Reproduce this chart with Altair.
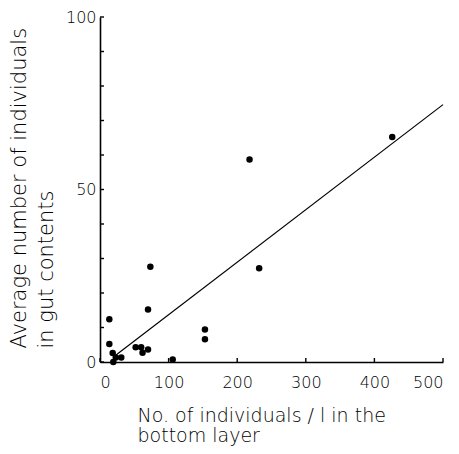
import altair as alt
import pandas as pd

# scatter data
x_vals = [13.6, 13.6, 18.5, 19.4, 23, 31, 52, 60, 62, 70, 70, 73.4, 106, 153, 153, 218, 232, 426]
y_vals = [12.4, 5.2, 2.6, 0, 1.3, 1.3, 4.3, 4.3, 2.7, 3.6, 15.2, 27.6, 0.7, 9.4, 6.6, 58.7, 27.2, 65.2]

# regression line end points
line_x = [20, 500]
line_y = [1.5, 74.6]

# axis ticks
x_tick_vals = [0, 100, 200, 300, 400, 500]
y_label_vals = [0, 50, 100]
y_tick_vals = [0, 10, 20, 30, 40, 50, 60, 70, 80, 90, 100]

x_title = ["No. of individuals / l  in the", "bottom layer"]
y_title = ["Average number of individuals", "in gut contents"]

FONT = "DejaVu Sans"
W, H = 343, 345

pts = pd.DataFrame({"x": x_vals, "y": y_vals})
ln = pd.DataFrame({"x": line_x, "y": line_y})
xt = pd.DataFrame({"x": x_tick_vals})
yt = pd.DataFrame({"y": y_tick_vals})

xscale = alt.Scale(domain=[0, 500], nice=False, zero=False)
yscale = alt.Scale(domain=[0, 100], nice=False, zero=False)

x_axis = alt.Axis(
    values=x_tick_vals, title=x_title, grid=False, ticks=False,
    domainColor="black", domainWidth=1.6, labelFont=FONT, labelFontSize=16,
    labelFontWeight=200, labelColor="black", labelPadding=12,
    titleFont=FONT, titleFontSize=19, titleFontWeight=200, titleColor="black",
    titleAnchor="start", titleAlign="left", titleBaseline="alphabetic",
    titleX=37, titleY=59, titleLineHeight=20,
)
y_axis = alt.Axis(
    values=y_label_vals, title=y_title, grid=False, ticks=False,
    domainColor="black", domainWidth=1.6, labelFont=FONT, labelFontSize=16,
    labelFontWeight=200, labelColor="black", labelPadding=4,
    titleFont=FONT, titleFontSize=21, titleFontWeight=200, titleColor="black",
    titleAngle=-90, titleAlign="left", titleBaseline="top",
    titleX=-92, titleY=331, titleLineHeight=27,
)

points = alt.Chart(pts).mark_circle(size=42, color="black", opacity=1).encode(
    x=alt.X("x:Q", scale=xscale, axis=x_axis),
    y=alt.Y("y:Q", scale=yscale, axis=y_axis),
)
line = alt.Chart(ln).mark_line(color="black", strokeWidth=1.2).encode(
    x=alt.X("x:Q", scale=xscale), y=alt.Y("y:Q", scale=yscale)
)
xticks = alt.Chart(xt).mark_rule(color="black", strokeWidth=1.4).encode(
    x=alt.X("x:Q", scale=xscale), y=alt.value(H), y2=alt.value(H - 4)
)
yticks = alt.Chart(yt).mark_rule(color="black", strokeWidth=1.4).encode(
    y=alt.Y("y:Q", scale=yscale), x=alt.value(0), x2=alt.value(4)
)

chart = alt.layer(points, line, xticks, yticks).properties(
    width=W, height=H,
    autosize=alt.AutoSizeParams(type="none"),
    padding={"left": 92, "top": 9, "right": 8, "bottom": 84},
).configure_view(stroke=None)

chart.save("out.html", embed_options={"renderer": "svg", "actions": False})
